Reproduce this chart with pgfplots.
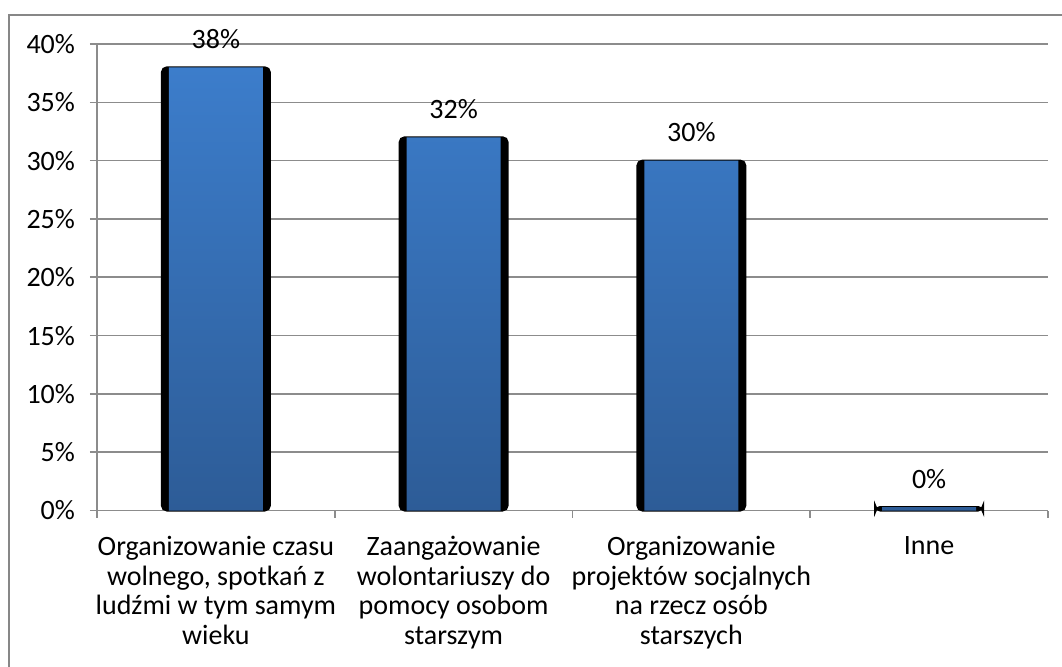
\documentclass[border=0pt]{standalone}
\usepackage{pgfplots}
\pgfplotsset{compat=1.18}
\usepackage{fontspec}
\setmainfont{Carlito}
\definecolor{gridgray}{HTML}{8C8C8C}
\definecolor{bordergray}{HTML}{878787}
\definecolor{bartop}{HTML}{3C7DCB}
\definecolor{barbot}{HTML}{2D5C97}
\begin{document}
\begin{tikzpicture}[font=\fontsize{14}{14.75}\selectfont]
\useasboundingbox (0,0) rectangle (531pt,333pt);
\draw[bordergray, line width=1pt] (4.25pt,-5pt) -- (4.25pt,325.5pt) -- (540pt,325.5pt);
\begin{axis}[
  at={(48.5pt,77.75pt)}, anchor=south west,
  scale only axis, width=475.5pt, height=233.25pt,
  xmin=-0.5, xmax=3.5, ymin=0, ymax=40,
  axis x line=bottom, axis y line=left,
  axis line style={-, gridgray, line width=0.8pt},
  ytick={0,5,...,40},
  yticklabels={0\%,5\%,10\%,15\%,20\%,25\%,30\%,35\%,40\%},
  ymajorgrids, grid style={gridgray, line width=0.8pt},
  xtick={0,1,2,3},
  major x tick style={draw=none},
  minor xtick={-0.5,0.5,1.5,2.5,3.5},
  minor tick length=3.5pt, major tick length=3.5pt,
  tick align=outside,
  tick style={gridgray, line width=0.8pt},
  xticklabels={{Organizowanie czasu\\wolnego, spotkań z\\ludźmi w tym samym\\wieku},
               {Zaangażowanie\\wolontariuszy do\\pomocy osobom\\starszym},
               {Organizowanie\\projektów socjalnych\\na rzecz osób\\starszych},
               {Inne}},
  xticklabel style={align=center, anchor=north, yshift=-6pt},
  yticklabel style={anchor=east, xshift=-4pt},
  ybar,
  clip=false,
]
\addplot[bar shift=0pt, bar width=54pt, fill=black, draw=black, line width=1pt, rounded corners=2.5pt]
  coordinates {(0,38) (1,32) (2,30) (3,0.3)};
\addplot[bar shift=0pt, bar width=47pt, draw=none, top color=bartop, bottom color=barbot,
  point meta=explicit symbolic,
  nodes near coords, every node near coord/.style={anchor=base, yshift=9.5pt, text=black}]
  coordinates {(0,38) [38\%] (1,32) [32\%] (2,30) [30\%] (3,0.3) [0\%]};
\end{axis}
\end{tikzpicture}
\end{document}
